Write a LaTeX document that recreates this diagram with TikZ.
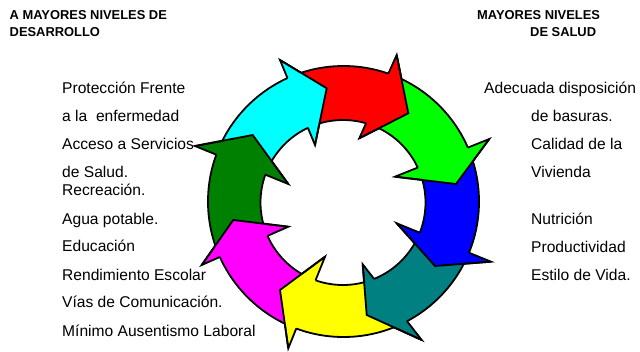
\documentclass[tikz,border=0pt]{standalone}
\usepackage{fontspec}
\setmainfont{Liberation Sans}
\usetikzlibrary{calc}
\definecolor{cCyan}{HTML}{00FFFF}
\definecolor{cRed}{HTML}{FF0000}
\definecolor{cGreen}{HTML}{00FF00}
\definecolor{cBlue}{HTML}{0000FF}
\definecolor{cTeal}{HTML}{008080}
\definecolor{cYellow}{HTML}{FFFF00}
\definecolor{cMagenta}{HTML}{FF00FF}
\definecolor{cDkGreen}{HTML}{008000}
\begin{document}
\begin{tikzpicture}[x=1pt,y=-1pt,
  outl/.style={draw=black,line width=1.8pt,line join=miter},
  lbl/.style={anchor=base west,inner sep=0pt,font=\fontsize{15.6}{18}\selectfont},
  ttl/.style={anchor=base west,inner sep=0pt,font=\fontsize{12.9}{15}\selectfont\bfseries}]
\useasboundingbox (0,0) rectangle (640,351);
\coordinate (O) at (343.5,201.5);
\coordinate (I) at (343,202.5);
% arrow heads: outer barb, tip, inner barb
\coordinate (bo1) at (280,60);      \coordinate (t1) at (326.7,88.3);  \coordinate (bi1) at (315,145);
\coordinate (bo2) at (396.7,55);    \coordinate (t2) at (408.3,113.3); \coordinate (bi2) at (359.3,138.3);
\coordinate (bo3) at (489.3,139);   \coordinate (t3) at (456,184);     \coordinate (bi3) at (395,176.7);
\coordinate (bo4) at (491,261.7);   \coordinate (t4) at (435,266);     \coordinate (bi4) at (396.7,223.3);
\coordinate (bo5) at (421.7,340);   \coordinate (t5) at (366.7,315);   \coordinate (bi5) at (362.7,264.3);
\coordinate (bo6) at (288.3,348.3); \coordinate (t6) at (280,290);     \coordinate (bi6) at (325,256.7);
\coordinate (bo7) at (201.7,265);   \coordinate (t7) at (233.3,220);   \coordinate (bi7) at (288.3,226.7);
\coordinate (bo8) at (195,146);     \coordinate (t8) at (252.7,135);   \coordinate (bi8) at (288.3,184);
% fills
\foreach \k/\p/\c in {1/8/cCyan,2/1/cRed,3/2/cGreen,4/3/cBlue,5/4/cTeal,6/5/cYellow,7/6/cMagenta,8/7/cDkGreen}{
  \begin{scope}
    \clip (t\p) -- ($(t\p)!3!(bo\p)$) -- ($(t\k)!3!(bo\k)$) -- (t\k) -- (bi\k) -- (bi\p) -- cycle;
    \fill[\c, even odd rule] (O) circle[radius=135.5pt] (I) circle[radius=82.5pt];
  \end{scope}
  \fill[\c] (bo\k) -- (t\k) -- (bi\k) -- cycle;
}
% outlines
\foreach \k/\p in {1/8,2/1,3/2,4/3,5/4,6/5,7/6,8/7}{
  \begin{scope}
    \clip (t\p) -- ($(t\p)!3!(bo\p)$) -- ($(bi\k)!2!(bo\k)$) -- (bi\k) -- (bi\p) -- cycle;
    \draw[outl] (O) circle[radius=135.5pt] (I) circle[radius=82.5pt];
  \end{scope}
  \draw[outl] (bo\k) -- (t\k) -- (bi\k);
  \begin{scope}[even odd rule]
    \clip (-20,-20) rectangle (660,370) (O) circle[radius=135.5pt] (I) circle[radius=82.5pt];
    \draw[outl] (t\k) -- (bo\k) -- (bi\k) -- (t\k) -- cycle;
  \end{scope}
}
% titles
\node[ttl] (ta) at (9.5,19) {A MAYORES NIVELES DE};
\node[ttl] (tb) at (9.5,36.5) {DESARROLLO};
\node[ttl] (tc) at (477,19) {MAYORES NIVELES};
\node[ttl] (td) at (530,36.5) {DE SALUD};
% left labels
\node[lbl] (l1) at (62,93) {Protección Frente};
\node[lbl] (l2) at (62,121.5) {a la\ \ enfermedad};
\node[lbl] (l3) at (62,149.5) {Acceso a Servicios};
\node[lbl] (l4) at (62,177.5) {de Salud.};
\node[lbl] (l5) at (62,195) {Recreación.};
\node[lbl] (l6) at (62,224) {Agua potable.};
\node[lbl] (l7) at (62,251.5) {Educación};
\node[lbl] (l8) at (62,280) {Rendimiento Escolar};
\node[lbl] (l9) at (62,307.5) {Vías de Comunicación.};
\node[lbl] (l10) at (62,336) {Mínimo Ausentismo Laboral};
% right labels
\node[lbl] (r1) at (484,93.5) {Adecuada disposición};
\node[lbl] (r2) at (531,121.5) {de basuras.};
\node[lbl] (r3) at (531,149.5) {Calidad de la};
\node[lbl] (r4) at (531,177) {Vivienda};
\node[lbl] (r5) at (531,224) {Nutrición};
\node[lbl] (r6) at (531,252) {Productividad};
\node[lbl] (r7) at (531,280) {Estilo de Vida.};
\end{tikzpicture}
\end{document}
